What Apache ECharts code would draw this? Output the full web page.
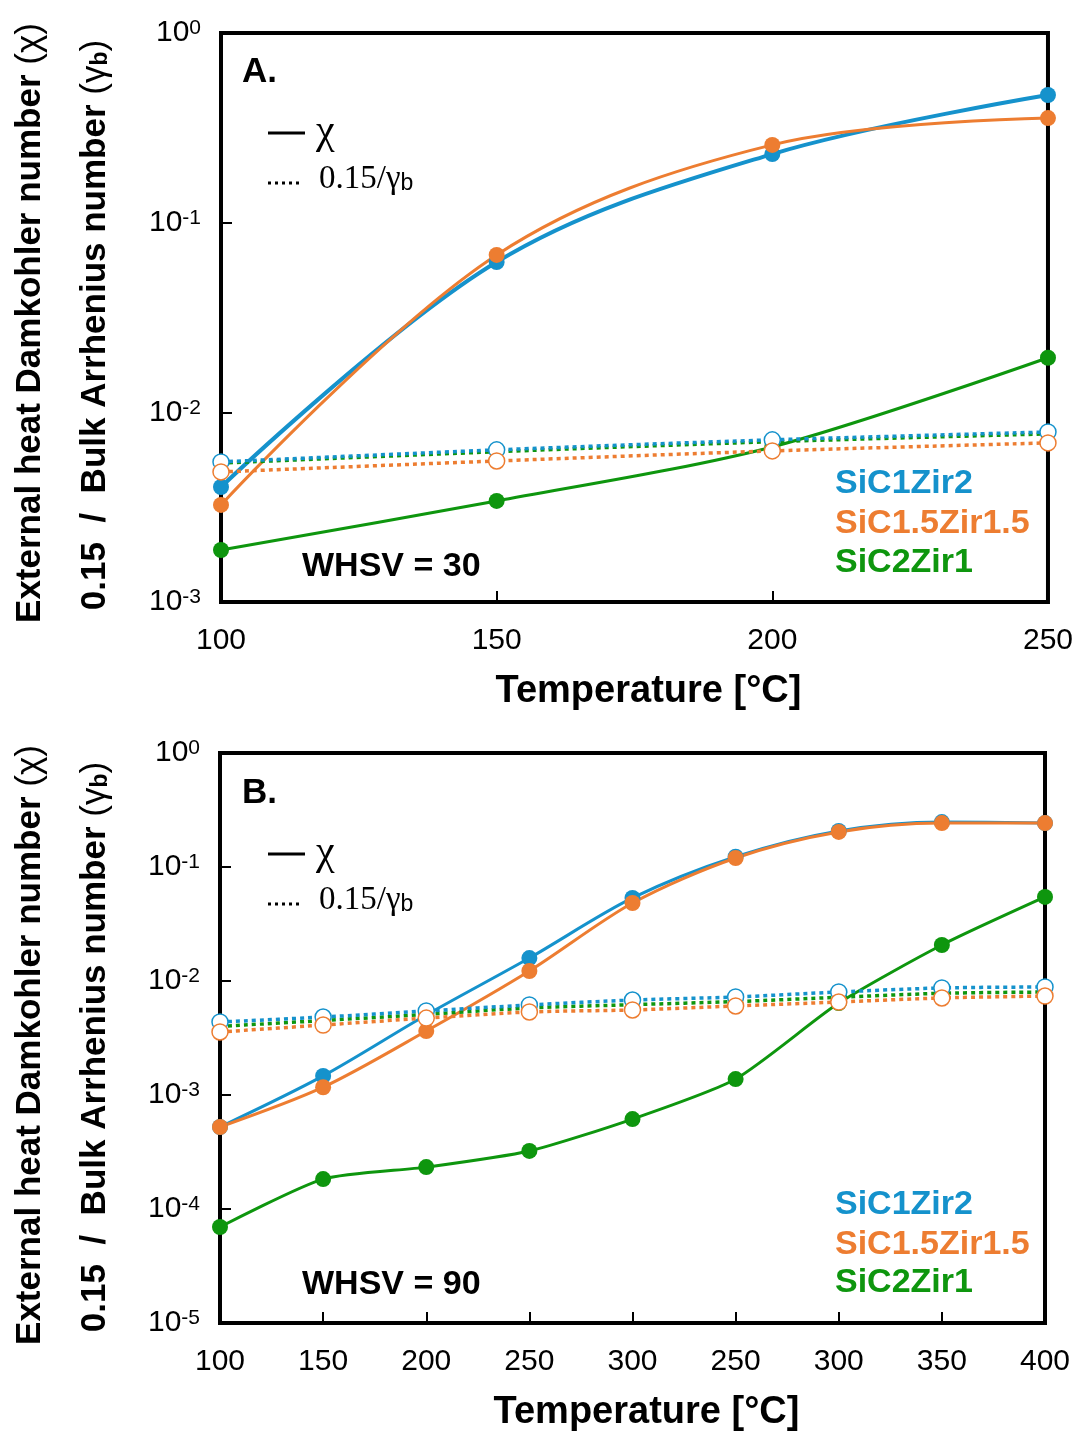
<!DOCTYPE html>
<html>
<head>
<meta charset="utf-8">
<script src="https://cdn.jsdelivr.net/npm/echarts@6/dist/echarts.min.js"></script>
<style>
html,body{margin:0;padding:0;background:#fff;}
#chart{width:1076px;height:1433px;}
</style>
</head>
<body>
<div id="chart"></div>
<script>
// ---------- DATA ----------
// Panel A (WHSV = 30)
const tempA = [100, 150, 200, 250];
const chiA_SiC1Zir2   = [0.00404, 0.062, 0.23, 0.471];
const chiA_SiC15Zir15 = [0.00325, 0.0676, 0.257, 0.356];
const chiA_SiC2Zir1   = [0.00188, 0.00341, 0.00657, 0.0194];
const gamA_SiC1Zir2   = [0.00548, 0.00634, 0.00716, 0.00788];
const gamA_SiC15Zir15 = [0.00485, 0.00554, 0.00626, 0.0069];
const gamA_SiC2Zir1   = [0.0054, 0.0062, 0.0070, 0.0077];

// Panel B (WHSV = 90) — tick labels as printed in the figure
const tickB = ['100', '150', '200', '250', '300', '250', '300', '350', '400'];
const chiB_SiC1Zir2   = [0.000524, 0.00147, 0.00503, 0.0159, 0.0535, 0.123, 0.207, 0.248, 0.243];
const chiB_SiC15Zir15 = [0.000524, 0.00117, 0.00364, 0.01224, 0.0483, 0.12, 0.203, 0.243, 0.243];
const chiB_SiC2Zir1   = [6.95e-5, 1.83e-4, 2.33e-4, 3.23e-4, 6.15e-4, 1.38e-3, 0.0064, 0.0207, 0.0546];
const gamB_SiC1Zir2   = [0.00437, 0.00483, 0.00546, 0.00616, 0.00681, 0.00724, 0.00801, 0.00869, 0.00886];
const gamB_SiC15Zir15 = [0.00357, 0.00411, 0.00473, 0.00535, 0.00557, 0.00604, 0.00654, 0.0071, 0.00738];
const gamB_SiC2Zir1   = [0.0040, 0.0045, 0.0051, 0.0058, 0.0062, 0.0066, 0.0072, 0.0078, 0.0080];

const seriesNames = ['SiC1Zir2', 'SiC1.5Zir1.5', 'SiC2Zir1'];

// ---------- STYLE ----------
const C_BLUE = '#1592CC', C_ORANGE = '#ED7D31', C_GREEN = '#0E960E';
const SANS = '"Liberation Sans", Arial, Helvetica, sans-serif';
const SERIF = '"Liberation Serif", "Times New Roman", serif';

const chart = echarts.init(document.getElementById('chart'), null, {renderer: 'canvas'});

function pairs(xs, ys) { return xs.map((x, i) => [x, ys[i]]); }

function logLabel(v) {
  const e = Math.round(Math.log10(v));
  return '{b|10}{s|' + e + '}';
}
const logRich = {
  b: {fontSize: 30, fontFamily: SANS, color: '#000', lineHeight: 30},
  s: {fontSize: 21, fontFamily: SANS, color: '#000', verticalAlign: 'top', lineHeight: 10}
};

function solid(name, color, data, xi, yi, w, sm) {
  return {
    name: name, type: 'line', xAxisIndex: xi, yAxisIndex: yi, data: data,
    smooth: sm, clip: false, symbol: 'circle', symbolSize: 16,
    lineStyle: {color: color, width: w},
    itemStyle: {color: color, borderWidth: 0},
    emphasis: {disabled: true}, z: 2
  };
}
function dotted(name, color, data, xi, yi, showSym) {
  return {
    name: name, type: 'line', xAxisIndex: xi, yAxisIndex: yi, data: data,
    smooth: 0.3, clip: false, symbol: showSym ? 'circle' : 'none', symbolSize: 16,
    lineStyle: {color: color, width: 3.5, type: [4, 4]},
    itemStyle: {color: '#fff', borderColor: color, borderWidth: 1.5},
    emphasis: {disabled: true}, z: 3
  };
}

function xAxisCommon() {
  return {
    axisLine: {show: false},
    axisTick: {show: true, inside: true, length: 11, lineStyle: {color: '#000', width: 2}},
    splitLine: {show: false},
    axisLabel: {color: '#000', fontSize: 30, fontFamily: SANS, margin: 24},
    name: 'Temperature [°C]', nameLocation: 'middle', nameGap: 71,
    nameTextStyle: {fontSize: 38, fontWeight: 'bold', fontFamily: SANS, color: '#000', padding: [0, 0, 0, 28]}
  };
}
function yAxisCommon(min) {
  return {
    type: 'log', logBase: 10, min: min, max: 1,
    axisLine: {show: false},
    axisTick: {show: true, inside: true, length: 11, lineStyle: {color: '#000', width: 2}},
    splitLine: {show: false}, minorTick: {show: false},
    axisLabel: {formatter: logLabel, rich: logRich, margin: 20}
  };
}

const yTitle1 = '{t|External heat Damkohler number }{g|(χ)}';
const yTitle2 = '{t|0.15  /  Bulk Arrhenius number }{g|(γ}{sb|b}{g|)}';
const yTitleRich = {
  t: {fontSize: 35, fontWeight: 'bold', fontFamily: SANS, color: '#000'},
  g: {fontSize: 35, fontFamily: SANS, color: '#000'},
  sb: {fontSize: 23, fontWeight: 'bold', fontFamily: SANS, color: '#000', verticalAlign: 'bottom', lineHeight: 28}
};

function textEl(x, y, text, opts) {
  return Object.assign({type: 'text', x: x, y: y, silent: true,
    style: Object.assign({text: text, fill: '#000', fontFamily: SANS, align: 'left', verticalAlign: 'middle'}, opts.style)},
    opts.extra || {});
}

function panelGraphics(dy, panelLabel, whsv, titleY) {
  const els = [];
  // y-axis titles (two rotated lines)
  els.push({type: 'text', x: 30, y: titleY, rotation: Math.PI / 2, silent: true,
    style: {text: yTitle1, rich: yTitleRich, align: 'center', verticalAlign: 'middle'}});
  els.push({type: 'text', x: 95, y: titleY + 2, rotation: Math.PI / 2, silent: true,
    style: {text: yTitle2, rich: yTitleRich, align: 'center', verticalAlign: 'middle'}});
  // panel label
  els.push(textEl(242, 72 + dy, panelLabel, {style: {fontSize: 35, fontWeight: 'bold'}}));
  // line-style key
  els.push({type: 'line', silent: true, shape: {x1: 268, y1: 133 + dy, x2: 305, y2: 133 + dy},
    style: {stroke: '#000', lineWidth: 3}});
  els.push(textEl(316, 132 + dy, 'χ', {style: {fontSize: 42, fontFamily: SERIF}}));
  els.push({type: 'line', silent: true, shape: {x1: 268, y1: 183 + dy, x2: 302, y2: 183 + dy},
    style: {stroke: '#000', lineWidth: 3, lineDash: [3, 4]}});
  els.push({type: 'text', x: 319, y: 179 + dy, silent: true,
    style: {text: '{n|0.15/γ}{s|b}', align: 'left', verticalAlign: 'middle',
      rich: {n: {fontSize: 33, fontFamily: SERIF, color: '#000', lineHeight: 33},
             s: {fontSize: 23, fontFamily: SANS, color: '#000', verticalAlign: 'bottom', lineHeight: 22}}}});
  // WHSV
  els.push(textEl(302, 567 + whsv.dy, whsv.text, {style: {fontSize: 34, fontWeight: 'bold'}}));
  return els;
}

function nameLabels(ys) {
  const cols = [C_BLUE, C_ORANGE, C_GREEN];
  return seriesNames.map((n, i) => textEl(835, ys[i], n, {style: {fontSize: 34, fontWeight: 'bold', fill: cols[i]}}));
}

const graphics = [].concat(
  panelGraphics(0, 'A.', {text: 'WHSV = 30', dy: 0}, 323),
  panelGraphics(721, 'B.', {text: 'WHSV = 90', dy: 718}, 1045),
  nameLabels([484, 524, 563]),
  nameLabels([1205, 1245, 1283])
);

const option = {
  backgroundColor: '#fff',
  animation: false,
  textStyle: {fontFamily: SANS},
  grid: [
    {left: 221, top: 33, width: 827, height: 569, show: true, borderColor: '#000', borderWidth: 4, backgroundColor: 'transparent'},
    {left: 220, top: 753, width: 825, height: 570, show: true, borderColor: '#000', borderWidth: 4, backgroundColor: 'transparent'}
  ],
  xAxis: [
    Object.assign(xAxisCommon(), {type: 'value', gridIndex: 0, min: 100, max: 250, interval: 50}),
    Object.assign(xAxisCommon(), {type: 'category', gridIndex: 1, data: tickB, boundaryGap: false,
      axisTick: {show: true, inside: true, length: 11, alignWithLabel: true, interval: 0, lineStyle: {color: '#000', width: 2}},
      axisLabel: {color: '#000', fontSize: 30, fontFamily: SANS, margin: 24, interval: 0}})
  ],
  yAxis: [
    Object.assign(yAxisCommon(0.001), {gridIndex: 0}),
    Object.assign(yAxisCommon(0.00001), {gridIndex: 1})
  ],
  series: [
    // Panel A
    solid('SiC2Zir1', C_GREEN, pairs(tempA, chiA_SiC2Zir1), 0, 0, 3, 0.3),
    solid('SiC1Zir2', C_BLUE, pairs(tempA, chiA_SiC1Zir2), 0, 0, 4, 0.35),
    solid('SiC1.5Zir1.5', C_ORANGE, pairs(tempA, chiA_SiC15Zir15), 0, 0, 3, 0.35),
    dotted('SiC2Zir1 γ', C_GREEN, pairs(tempA, gamA_SiC2Zir1), 0, 0, false),
    dotted('SiC1Zir2 γ', C_BLUE, pairs(tempA, gamA_SiC1Zir2), 0, 0, true),
    dotted('SiC1.5Zir1.5 γ', C_ORANGE, pairs(tempA, gamA_SiC15Zir15), 0, 0, true),
    // Panel B
    solid('SiC2Zir1 B', C_GREEN, chiB_SiC2Zir1, 1, 1, 3, 0.22),
    solid('SiC1Zir2 B', C_BLUE, chiB_SiC1Zir2, 1, 1, 3, 0.3),
    solid('SiC1.5Zir1.5 B', C_ORANGE, chiB_SiC15Zir15, 1, 1, 3, 0.3),
    dotted('SiC2Zir1 γ B', C_GREEN, gamB_SiC2Zir1, 1, 1, false),
    dotted('SiC1Zir2 γ B', C_BLUE, gamB_SiC1Zir2, 1, 1, true),
    dotted('SiC1.5Zir1.5 γ B', C_ORANGE, gamB_SiC15Zir15, 1, 1, true)
  ],
  graphic: graphics
};
chart.setOption(option);
</script>
</body>
</html>
